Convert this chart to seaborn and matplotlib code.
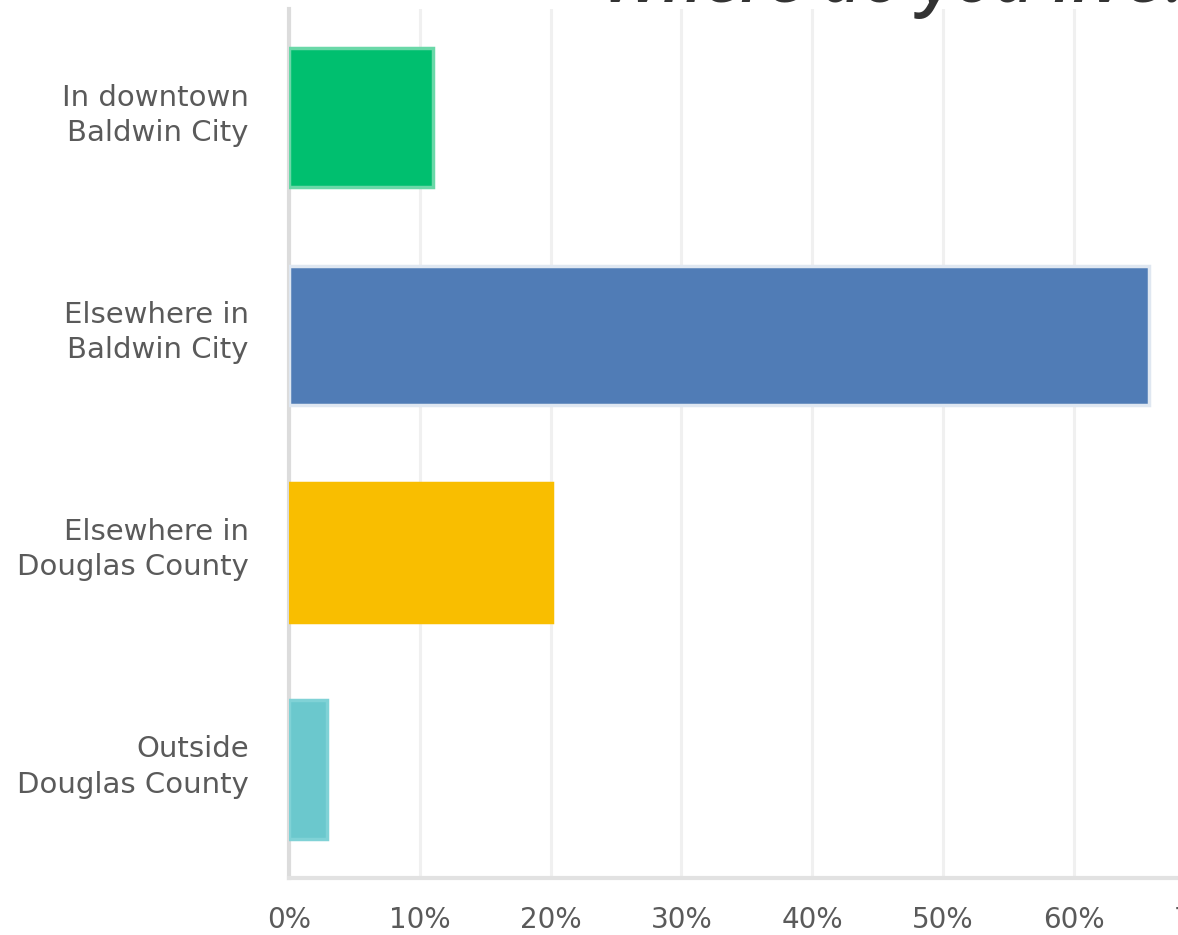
import matplotlib
matplotlib.use("Agg")
import matplotlib.pyplot as plt
import matplotlib.transforms as mtransforms
import seaborn as sns
import pandas as pd
from matplotlib.ticker import FuncFormatter

# Survey responses: "Where do you live?"
categories = [
    "In downtown\nBaldwin City",
    "Elsewhere in\nBaldwin City",
    "Elsewhere in\nDouglas County",
    "Outside\nDouglas County",
]
percentages = [11.0, 65.7, 20.1, 2.9]
bar_colors = ["#00bf6f", "#507cb6", "#f9be00", "#6bc8cd"]
edge_colors = ["#6ad8a8", "#dfe7f1", "#f9be00", "#80d2d6"]
x_ticks = [0, 10, 20, 30, 40, 50, 60, 70]

df = pd.DataFrame({"answer": categories, "pct": percentages})

sns.set_theme(style="white")
plt.rcParams["font.family"] = ["Lato", "DejaVu Sans"]

fig = plt.figure(figsize=(11.78, 9.35), dpi=100)
ax = fig.add_axes([0.2453, 0.061, 0.7775, 0.929])

sns.barplot(
    data=df, y="answer", x="pct", hue="answer", palette=bar_colors,
    orient="h", width=0.64, legend=False, ax=ax, saturation=1,
)
for patch, ec in zip(ax.patches, edge_colors):
    patch.set_edgecolor(ec)
    patch.set_linewidth(2.5)
    patch.set_zorder(3)

ax.set_xlim(0, 70)
ax.set_ylim(3.5, -0.5)
ax.set_xticks(x_ticks)
ax.xaxis.set_major_formatter(FuncFormatter(lambda v, _: f"{v:.0f}%"))
ax.grid(axis="x", color="#f0f0f0", linewidth=2.2, zorder=0)
ax.set_axisbelow(True)

for side in ("top", "right"):
    ax.spines[side].set_visible(False)
ax.spines["left"].set_color("#dcdcdc")
ax.spines["left"].set_linewidth(3)
ax.spines["bottom"].set_color("#e2e2e2")
ax.spines["bottom"].set_linewidth(3)

ax.tick_params(axis="both", length=0, labelcolor="#5a5a5a")
ax.tick_params(axis="y", pad=29, labelsize=21)
ax.tick_params(axis="x", pad=20, labelsize=20)
ax.set_xlabel("")
ax.set_ylabel("")

# category labels sit slightly above the bar centre
lift = mtransforms.ScaledTranslation(0, 9 / 100, fig.dpi_scale_trans)
for tick in ax.yaxis.get_major_ticks():
    tick.label1.set_linespacing(1.33)
    tick.label1.set_fontfamily("DejaVu Sans")
    tick.label1.set_transform(tick.label1.get_transform() + lift)
for lbl in ax.get_xticklabels():
    lbl.set_fontfamily("DejaVu Sans")

fig.text(0.762, 0.9975, "Where do you live?", ha="center", va="baseline",
         fontsize=50, fontstyle="italic", fontweight="semibold",
         color="#333333", family=["Open Sans", "DejaVu Sans"])

fig.savefig("out.png", dpi=100)
